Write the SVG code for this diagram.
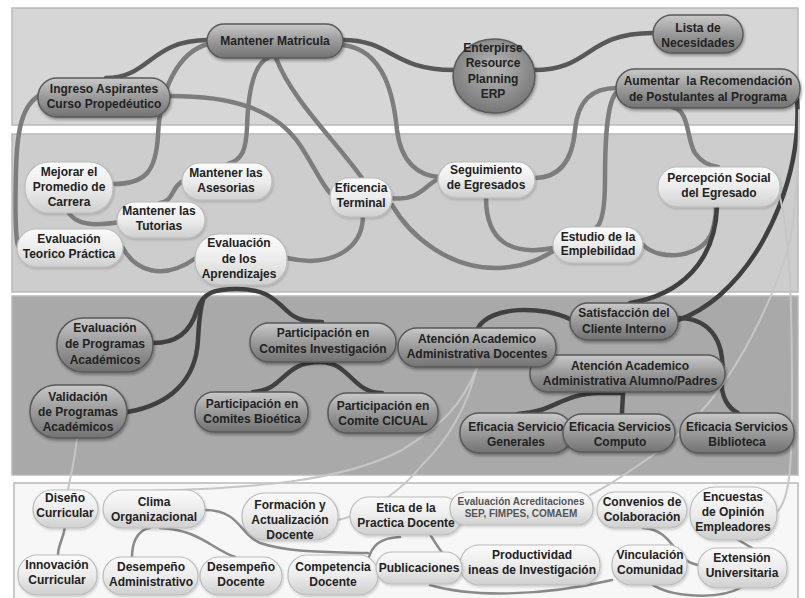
<svg xmlns="http://www.w3.org/2000/svg" width="805" height="598" viewBox="0 0 805 598">
<defs>
<linearGradient id="gd" x1="0" y1="0" x2="0" y2="1">
<stop offset="0" stop-color="#c9c9c9"/>
<stop offset="0.45" stop-color="#9e9e9e"/>
<stop offset="1" stop-color="#727272"/>
</linearGradient>
<linearGradient id="gl" x1="0" y1="0" x2="0" y2="1">
<stop offset="0" stop-color="#fbfbfb"/>
<stop offset="0.5" stop-color="#ececec"/>
<stop offset="1" stop-color="#cfcfcf"/>
</linearGradient>
<radialGradient id="ge" cx="0.5" cy="0.4" r="0.6">
<stop offset="0" stop-color="#b8b8b8"/>
<stop offset="1" stop-color="#767676"/>
</radialGradient>
<filter id="sh" x="-10%" y="-10%" width="125%" height="135%">
<feDropShadow dx="1" dy="2" stdDeviation="1.5" flood-color="#000" flood-opacity="0.35"/>
</filter>
<filter id="shl" x="-10%" y="-10%" width="125%" height="135%">
<feDropShadow dx="1" dy="1.5" stdDeviation="1.2" flood-color="#000" flood-opacity="0.18"/>
</filter>
</defs>
<style>
.band{stroke:#b9b9b9;stroke-width:1.5}
.c1{fill:none;stroke:#7d7d7d;stroke-width:4.5;stroke-linecap:round}
.c2{fill:none;stroke:#585858;stroke-width:4.5;stroke-linecap:round}
.c3{fill:none;stroke:#404040;stroke-width:4.5;stroke-linecap:round}
.c4{fill:none;stroke:#8a8a8a;stroke-width:2.5;stroke-linecap:round}
.c5{fill:none;stroke:#c6c6c6;stroke-width:2;stroke-linecap:round}
.dk rect,.dk ellipse{fill:url(#gd);stroke:#5a5a5a;stroke-width:1.5;filter:url(#sh)}
.dk ellipse{fill:url(#ge)}
.lt rect{fill:url(#gl);stroke:#bcbcbc;stroke-width:1.2;filter:url(#shl)}
text{font-family:"Liberation Sans",Arial,sans-serif;font-weight:bold;font-size:12px;fill:#222;text-anchor:middle}
.sm{font-size:10px;fill:#555}
</style>
<rect width="805" height="598" fill="#fff"/>
<g id="bands">
<rect class="band" x="12" y="8" width="786" height="117" fill="#d6d6d6"/>
<rect class="band" x="12" y="134" width="786" height="158" fill="#cdcdcd"/>
<rect class="band" x="12" y="296" width="786" height="179" fill="#a9a9a9"/>
<rect class="band" x="14" y="483" width="784" height="120" fill="#f7f7f7" stroke="#a8a8a8"/>
</g>
<g id="connectors">
<path class="c2" d="M106,78 C150,78 150,40 208,40"/>
<path class="c1" d="M208,44 C178,52 160,90 158,135 C156,172 145,184 113,184"/>
<path class="c1" d="M40,95 C22,105 17,130 16,170 C15,210 15,235 18,246"/>
<path class="c1" d="M170,96 C230,96 275,108 300,145 C315,168 322,185 331,194"/>
<path class="c1" d="M268,58 C254,64 248,92 247,128 C246,150 242,160 228,164"/>
<path class="c1" d="M276,58 C292,100 335,140 362,178"/>
<path class="c2" d="M343,40 C392,40 392,70 454,70"/>
<path class="c1" d="M343,45 C386,50 394,100 397,130 C401,162 418,176 440,177"/>
<path class="c2" d="M534,70 C592,70 585,33 653,33"/>
<path class="c1" d="M617,88 C592,88 578,100 575,130 C572,165 556,178 534,178"/>
<path class="c1" d="M617,92 C608,100 605,130 605,180 C605,213 601,224 596,228"/>
<path class="c1" d="M672,107 C690,110 686,138 695,153 C702,163 710,166 718,167"/>
<path class="c1" d="M391,198 C420,202 425,184 440,178"/>
<path class="c1" d="M486,198 C486,242 512,256 553,248"/>
<path class="c1" d="M392,205 C410,236 450,270 500,268 C530,266 545,256 555,250"/>
<path class="c1" d="M643,245 C660,262 703,258 712,232 C715,222 716,214 716,207"/>
<path class="c1" d="M363,217 C362,250 330,268 287,258"/>
<path class="c1" d="M67,210 C75,226 95,226 120,222"/>
<path class="c1" d="M160,203 C176,200 170,185 186,180"/>
<path class="c1" d="M123,248 C135,270 162,282 196,258"/>
<path class="c3" d="M717,207 C715,262 680,295 630,303"/>
<path class="c3" d="M797,97 C802,170 770,250 720,295 C705,308 690,316 678,320"/>
<path class="c3" d="M153,343 C176,343 190,333 197,310 C203,292 215,289 237,289 C262,289 272,296 286,310 C296,320 306,322 322,322"/>
<path class="c3" d="M127,412 C170,405 196,380 198,340 C199,320 200,310 203,300"/>
<path class="c3" d="M253,392 C285,390 282,362 320,362 C350,362 352,393 382,393"/>
<path class="c3" d="M572,320 C542,305 490,306 478,328"/>
<path class="c3" d="M678,318 C705,318 726,335 722,378 C720,396 728,408 738,413"/>
<path class="c3" d="M518,414 C555,412 560,394 600,393 L623,393"/>
<path class="c3" d="M623,392 C623,400 622,407 622,414"/>
<path class="c5" d="M77,438 C75,460 70,478 68,490"/>
<path class="c5" d="M477,368 C462,405 442,425 402,450 C342,482 250,488 150,491"/>
<path class="c5" d="M477,368 C466,410 448,440 422,465 C402,490 372,512 338,520"/>
<path class="c5" d="M778,190 C790,230 792,300 792,400 C792,470 789,500 777,512"/>
<path class="c5" d="M799,110 C799,150 798,200 790,240 C783,270 770,300 755,330 C730,380 700,420 660,450 C635,468 610,485 590,495"/>
<path class="c4" d="M65,527 C63,540 58,545 58,555"/>
<path class="c4" d="M150,528 C136,530 132,545 132,557"/>
<path class="c4" d="M160,528 C200,530 210,548 235,557"/>
<path class="c4" d="M205,510 C240,510 240,535 260,543 C290,553 330,552 368,553"/>
<path class="c4" d="M368,560 C372,545 380,538 400,537"/>
<path class="c4" d="M400,506 C425,515 430,540 445,556 C450,561 455,563 460,563"/>
<path class="c4" d="M430,585 C470,597 540,597 612,580"/>
<path class="c4" d="M650,583 C670,598 720,600 742,587"/>
<path class="c4" d="M643,528 C675,530 672,560 698,565"/>
<path class="c4" d="M735,538 L752,548"/>
</g>
<g id="n-matricula" class="dk"><rect x="207" y="24" width="136" height="34" rx="17"/><text x="275" y="45">Mantener Matricula</text></g>
<g id="n-ingreso" class="dk"><rect x="38" y="78" width="132" height="39" rx="19"/><text x="104" y="93">Ingreso Aspirantes</text><text x="104" y="108">Curso Propedéutico</text></g>
<g id="n-erp" class="dk"><ellipse cx="494" cy="76" rx="41" ry="37"/><text x="493" y="52">Enterpirse</text><text x="493" y="67">Resource</text><text x="493" y="83">Planning</text><text x="493" y="98">ERP</text></g>
<g id="n-lista" class="dk"><rect x="653" y="15" width="90" height="38" rx="19"/><text x="698" y="32">Lista de</text><text x="698" y="47">Necesidades</text></g>
<g id="n-aumentar" class="dk"><rect x="616" y="69" width="184" height="39" rx="19"/><text x="708" y="85" xml:space="preserve">Aumentar  la Recomendación</text><text x="708" y="101">de Postulantes al Programa</text></g>
<g id="n-mejorar" class="lt"><rect x="25" y="162" width="88" height="51" rx="24"/><text x="69" y="176">Mejorar el</text><text x="69" y="191">Promedio de</text><text x="69" y="206">Carrera</text></g>
<g id="n-asesorias" class="lt"><rect x="182" y="163" width="90" height="37" rx="18"/><text x="226" y="177">Mantener las</text><text x="226" y="192">Asesorias</text></g>
<g id="n-tutorias" class="lt"><rect x="117" y="202" width="88" height="36" rx="18"/><text x="159" y="215">Mantener las</text><text x="159" y="230">Tutorias</text></g>
<g id="n-teorico" class="lt"><rect x="17" y="229" width="106" height="38" rx="19"/><text x="69" y="243">Evaluación</text><text x="69" y="258">Teorico Práctica</text></g>
<g id="n-aprendizajes" class="lt"><rect x="195" y="234" width="92" height="51" rx="24"/><text x="239" y="247">Evaluación</text><text x="239" y="263">de los</text><text x="239" y="278">Aprendizajes</text></g>
<g id="n-eficencia" class="lt"><rect x="330" y="178" width="62" height="39" rx="19"/><text x="361" y="192">Eficencia</text><text x="361" y="207">Terminal</text></g>
<g id="n-seguimiento" class="lt"><rect x="438" y="162" width="97" height="36" rx="18"/><text x="486" y="174">Seguimiento</text><text x="486" y="189">de Egresados</text></g>
<g id="n-estudio" class="lt"><rect x="553" y="227" width="90" height="36" rx="18"/><text x="598" y="241">Estudio de la</text><text x="598" y="255">Emplebilidad</text></g>
<g id="n-percepcion" class="lt"><rect x="658" y="167" width="122" height="40" rx="19"/><text x="719" y="182">Percepción Social</text><text x="719" y="197">del Egresado</text></g>
<g id="n-evprog" class="dk"><rect x="57" y="318" width="96" height="54" rx="26"/><text x="105" y="332">Evaluación</text><text x="105" y="348">de Programas</text><text x="105" y="364">Académicos</text></g>
<g id="n-valprog" class="dk"><rect x="30" y="385" width="97" height="53" rx="26"/><text x="78" y="401">Validación</text><text x="78" y="416">de Programas</text><text x="78" y="431">Académicos</text></g>
<g id="n-pinv" class="dk"><rect x="250" y="323" width="146" height="39" rx="19"/><text x="323" y="337">Participación en</text><text x="323" y="353">Comites Investigación</text></g>
<g id="n-pbio" class="dk"><rect x="195" y="392" width="113" height="40" rx="19"/><text x="252" y="408">Participación en</text><text x="252" y="423">Comites Bioética</text></g>
<g id="n-pcic" class="dk"><rect x="328" y="393" width="110" height="40" rx="19"/><text x="383" y="410">Participación en</text><text x="383" y="425">Comite CICUAL</text></g>
<g id="n-satisf" class="dk"><rect x="570" y="303" width="108" height="37" rx="18"/><text x="624" y="317">Satisfacción del</text><text x="624" y="333">Cliente Interno</text></g>
<g id="n-alumno" class="dk"><rect x="530" y="355" width="195" height="37" rx="18"/><text x="630" y="370">Atención Academico</text><text x="630" y="385">Administrativa Alumno/Padres</text></g>
<g id="n-docentes" class="dk"><rect x="398" y="328" width="158" height="39" rx="19"/><text x="477" y="343">Atención Academico</text><text x="477" y="358">Administrativa Docentes</text></g>
<g id="n-generales" class="dk"><rect x="460" y="413" width="112" height="40" rx="19"/><text x="516" y="431">Eficacia Servicio</text><text x="516" y="446">Generales</text></g>
<g id="n-computo" class="dk"><rect x="563" y="414" width="112" height="38" rx="19"/><text x="620" y="431">Eficacia Servicios</text><text x="620" y="446">Computo</text></g>
<g id="n-biblioteca" class="dk"><rect x="680" y="413" width="114" height="40" rx="19"/><text x="737" y="431">Eficacia Servicios</text><text x="737" y="446">Biblioteca</text></g>
<g id="n-diseno" class="lt"><rect x="33" y="490" width="65" height="38" rx="19"/><text x="65" y="502">Diseño</text><text x="65" y="517">Curricular</text></g>
<g id="n-clima" class="lt"><rect x="103" y="490" width="102" height="38" rx="19"/><text x="154" y="506">Clima</text><text x="154" y="521">Organizacional</text></g>
<g id="n-formacion" class="lt"><rect x="242" y="493" width="96" height="47" rx="23"/><text x="290" y="509">Formación y</text><text x="290" y="524">Actualización</text><text x="290" y="539">Docente</text></g>
<g id="n-etica" class="lt"><rect x="350" y="497" width="112" height="38" rx="19"/><text x="406" y="512">Etica de la</text><text x="406" y="527">Practica Docente</text></g>
<g id="n-acred" class="lt"><rect x="450" y="492" width="143" height="33" rx="16"/><text class="sm" x="521" y="505">Evaluación Acreditaciones</text><text class="sm" x="521" y="517">SEP, FIMPES, COMAEM</text></g>
<g id="n-convenios" class="lt"><rect x="597" y="492" width="90" height="36" rx="18"/><text x="642" y="506">Convenios de</text><text x="642" y="521">Colaboración</text></g>
<g id="n-encuestas" class="lt"><rect x="690" y="487" width="87" height="53" rx="25"/><text x="733" y="501">Encuestas</text><text x="733" y="516">de Opinión</text><text x="733" y="531">Empleadores</text></g>
<g id="n-innovacion" class="lt"><rect x="18" y="555" width="79" height="40" rx="19"/><text x="57" y="569">Innovación</text><text x="57" y="584">Curricular</text></g>
<g id="n-desadm" class="lt"><rect x="103" y="557" width="95" height="38" rx="19"/><text x="151" y="571">Desempeño</text><text x="151" y="586">Administrativo</text></g>
<g id="n-desdoc" class="lt"><rect x="200" y="557" width="82" height="38" rx="19"/><text x="241" y="571">Desempeño</text><text x="241" y="586">Docente</text></g>
<g id="n-competencia" class="lt"><rect x="288" y="555" width="90" height="40" rx="19"/><text x="333" y="571">Competencia</text><text x="333" y="586">Docente</text></g>
<g id="n-productividad" class="lt"><rect x="460" y="545" width="140" height="40" rx="19"/><text x="532" y="559">Productividad</text><text x="532" y="574">ineas de Investigación</text></g>
<g id="n-publicaciones" class="lt"><rect x="376" y="552" width="86" height="32" rx="16"/><text x="419" y="572">Publicaciones</text></g>
<g id="n-vinculacion" class="lt"><rect x="612" y="545" width="75" height="40" rx="19"/><text x="650" y="559">Vinculación</text><text x="650" y="574">Comunidad</text></g>
<g id="n-extension" class="lt"><rect x="698" y="548" width="89" height="40" rx="19"/><text x="742" y="562">Extensión</text><text x="742" y="577">Universitaria</text></g>
</svg>
